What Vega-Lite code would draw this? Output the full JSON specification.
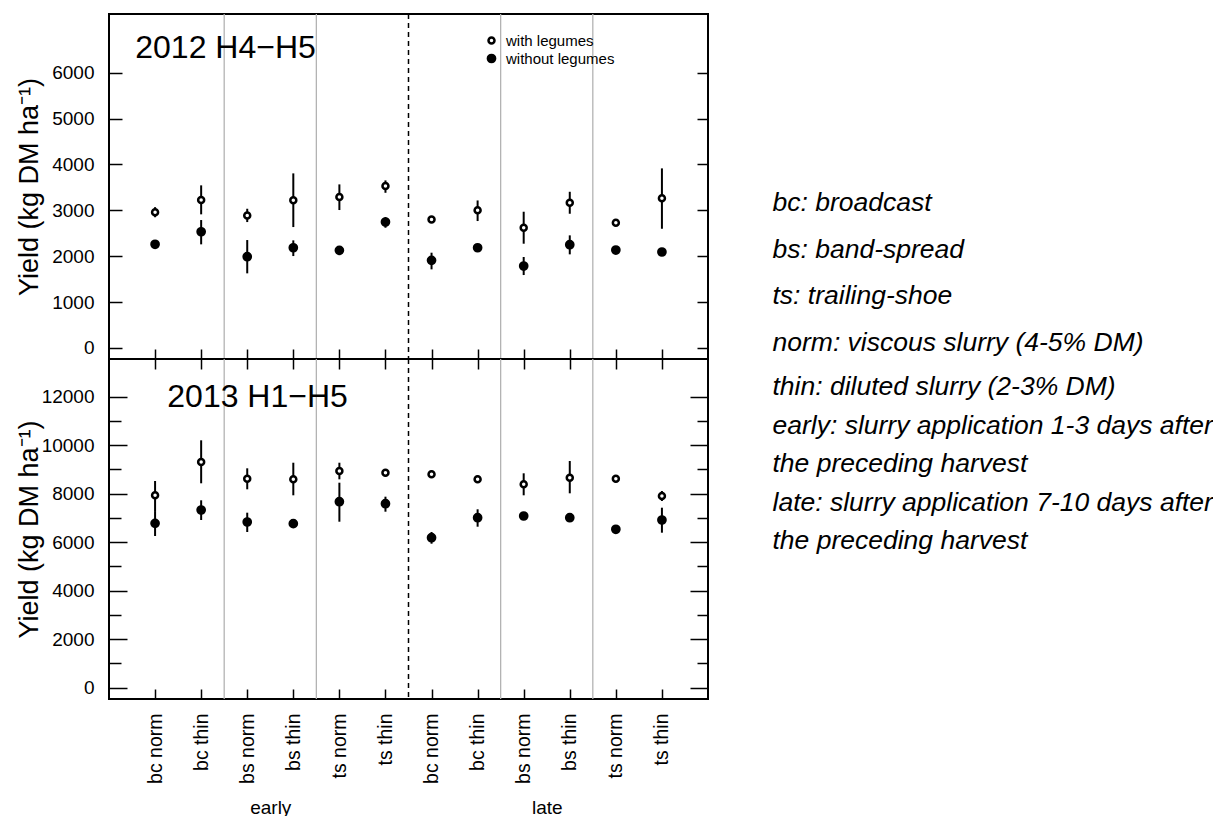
{
  "$schema": "https://vega.github.io/schema/vega-lite/v6.json",
  "background": "white",
  "padding": {"left": 14, "top": 12, "right": 0, "bottom": 0},
  "config": {
    "font": "Liberation Sans",
    "view": {"stroke": "black", "strokeWidth": 2},
    "axis": {"grid": false, "domain": false, "tickColor": "black", "tickWidth": 1.5, "labelColor": "black", "labelFont": "Liberation Sans", "labelFontSize": 19, "titleColor": "black", "titleFont": "Liberation Sans", "titleFontWeight": "normal", "labelFlush": false, "labelOverlap": false}
  },
  "datasets": {
    "yields": [
      {"year": 2012, "pos": 0, "timing": "early", "treatment": "bc norm", "legume": "with legumes", "yield": 2960, "lo": 2850, "hi": 3070},
      {"year": 2012, "pos": 0, "timing": "early", "treatment": "bc norm", "legume": "without legumes", "yield": 2260, "lo": 2190, "hi": 2330},
      {"year": 2012, "pos": 1, "timing": "early", "treatment": "bc thin", "legume": "with legumes", "yield": 3224, "lo": 2913, "hi": 3545},
      {"year": 2012, "pos": 1, "timing": "early", "treatment": "bc thin", "legume": "without legumes", "yield": 2534, "lo": 2259, "hi": 2789},
      {"year": 2012, "pos": 2, "timing": "early", "treatment": "bs norm", "legume": "with legumes", "yield": 2890, "lo": 2745, "hi": 3035},
      {"year": 2012, "pos": 2, "timing": "early", "treatment": "bs norm", "legume": "without legumes", "yield": 1990, "lo": 1627, "hi": 2353},
      {"year": 2012, "pos": 3, "timing": "early", "treatment": "bs thin", "legume": "with legumes", "yield": 3218, "lo": 2636, "hi": 3806},
      {"year": 2012, "pos": 3, "timing": "early", "treatment": "bs thin", "legume": "without legumes", "yield": 2185, "lo": 2004, "hi": 2346},
      {"year": 2012, "pos": 4, "timing": "early", "treatment": "ts norm", "legume": "with legumes", "yield": 3290, "lo": 3007, "hi": 3566},
      {"year": 2012, "pos": 4, "timing": "early", "treatment": "ts norm", "legume": "without legumes", "yield": 2128, "lo": 2060, "hi": 2190},
      {"year": 2012, "pos": 5, "timing": "early", "treatment": "ts thin", "legume": "with legumes", "yield": 3529, "lo": 3383, "hi": 3653},
      {"year": 2012, "pos": 5, "timing": "early", "treatment": "ts thin", "legume": "without legumes", "yield": 2745, "lo": 2621, "hi": 2854},
      {"year": 2012, "pos": 6, "timing": "late", "treatment": "bc norm", "legume": "with legumes", "yield": 2803, "lo": 2740, "hi": 2870},
      {"year": 2012, "pos": 6, "timing": "late", "treatment": "bc norm", "legume": "without legumes", "yield": 1910, "lo": 1714, "hi": 2077},
      {"year": 2012, "pos": 7, "timing": "late", "treatment": "bc thin", "legume": "with legumes", "yield": 3000, "lo": 2767, "hi": 3216},
      {"year": 2012, "pos": 7, "timing": "late", "treatment": "bc thin", "legume": "without legumes", "yield": 2185, "lo": 2120, "hi": 2250},
      {"year": 2012, "pos": 8, "timing": "late", "treatment": "bs norm", "legume": "with legumes", "yield": 2621, "lo": 2273, "hi": 2970},
      {"year": 2012, "pos": 8, "timing": "late", "treatment": "bs norm", "legume": "without legumes", "yield": 1786, "lo": 1590, "hi": 1983},
      {"year": 2012, "pos": 9, "timing": "late", "treatment": "bs thin", "legume": "with legumes", "yield": 3166, "lo": 2926, "hi": 3405},
      {"year": 2012, "pos": 9, "timing": "late", "treatment": "bs thin", "legume": "without legumes", "yield": 2251, "lo": 2041, "hi": 2455},
      {"year": 2012, "pos": 10, "timing": "late", "treatment": "ts norm", "legume": "with legumes", "yield": 2730, "lo": 2670, "hi": 2790},
      {"year": 2012, "pos": 10, "timing": "late", "treatment": "ts norm", "legume": "without legumes", "yield": 2135, "lo": 2060, "hi": 2200},
      {"year": 2012, "pos": 11, "timing": "late", "treatment": "ts thin", "legume": "with legumes", "yield": 3262, "lo": 2599, "hi": 3915},
      {"year": 2012, "pos": 11, "timing": "late", "treatment": "ts thin", "legume": "without legumes", "yield": 2092, "lo": 2030, "hi": 2150},
      {"year": 2013, "pos": 0, "timing": "early", "treatment": "bc norm", "legume": "with legumes", "yield": 7934, "lo": 7285, "hi": 8524},
      {"year": 2013, "pos": 0, "timing": "early", "treatment": "bc norm", "legume": "without legumes", "yield": 6779, "lo": 6255, "hi": 7285},
      {"year": 2013, "pos": 1, "timing": "early", "treatment": "bc thin", "legume": "with legumes", "yield": 9307, "lo": 8429, "hi": 10202},
      {"year": 2013, "pos": 1, "timing": "early", "treatment": "bc thin", "legume": "without legumes", "yield": 7328, "lo": 6915, "hi": 7728},
      {"year": 2013, "pos": 2, "timing": "early", "treatment": "bs norm", "legume": "with legumes", "yield": 8619, "lo": 8181, "hi": 9047},
      {"year": 2013, "pos": 2, "timing": "early", "treatment": "bs norm", "legume": "without legumes", "yield": 6833, "lo": 6421, "hi": 7217},
      {"year": 2013, "pos": 3, "timing": "early", "treatment": "bs thin", "legume": "with legumes", "yield": 8593, "lo": 7934, "hi": 9278},
      {"year": 2013, "pos": 3, "timing": "early", "treatment": "bs thin", "legume": "without legumes", "yield": 6764, "lo": 6600, "hi": 6930},
      {"year": 2013, "pos": 4, "timing": "early", "treatment": "ts norm", "legume": "with legumes", "yield": 8936, "lo": 8593, "hi": 9278},
      {"year": 2013, "pos": 4, "timing": "early", "treatment": "ts norm", "legume": "without legumes", "yield": 7670, "lo": 6845, "hi": 8454},
      {"year": 2013, "pos": 5, "timing": "early", "treatment": "ts thin", "legume": "with legumes", "yield": 8866, "lo": 8720, "hi": 9010},
      {"year": 2013, "pos": 5, "timing": "early", "treatment": "ts thin", "legume": "without legumes", "yield": 7588, "lo": 7258, "hi": 7877},
      {"year": 2013, "pos": 6, "timing": "late", "treatment": "bc norm", "legume": "with legumes", "yield": 8800, "lo": 8650, "hi": 8950},
      {"year": 2013, "pos": 6, "timing": "late", "treatment": "bc norm", "legume": "without legumes", "yield": 6186, "lo": 5938, "hi": 6421},
      {"year": 2013, "pos": 7, "timing": "late", "treatment": "bc thin", "legume": "with legumes", "yield": 8593, "lo": 8450, "hi": 8740},
      {"year": 2013, "pos": 7, "timing": "late", "treatment": "bc thin", "legume": "without legumes", "yield": 7010, "lo": 6639, "hi": 7357},
      {"year": 2013, "pos": 8, "timing": "late", "treatment": "bs norm", "legume": "with legumes", "yield": 8387, "lo": 7934, "hi": 8841},
      {"year": 2013, "pos": 8, "timing": "late", "treatment": "bs norm", "legume": "without legumes", "yield": 7080, "lo": 6930, "hi": 7230},
      {"year": 2013, "pos": 9, "timing": "late", "treatment": "bs thin", "legume": "with legumes", "yield": 8660, "lo": 8016, "hi": 9348},
      {"year": 2013, "pos": 9, "timing": "late", "treatment": "bs thin", "legume": "without legumes", "yield": 7010, "lo": 6860, "hi": 7160},
      {"year": 2013, "pos": 10, "timing": "late", "treatment": "ts norm", "legume": "with legumes", "yield": 8619, "lo": 8470, "hi": 8770},
      {"year": 2013, "pos": 10, "timing": "late", "treatment": "ts norm", "legume": "without legumes", "yield": 6532, "lo": 6380, "hi": 6680},
      {"year": 2013, "pos": 11, "timing": "late", "treatment": "ts thin", "legume": "with legumes", "yield": 7905, "lo": 7699, "hi": 8111},
      {"year": 2013, "pos": 11, "timing": "late", "treatment": "ts thin", "legume": "without legumes", "yield": 6915, "lo": 6392, "hi": 7423}
    ],
    "separators": [{"pos": 1.5}, {"pos": 3.5}, {"pos": 7.5}, {"pos": 9.5}],
    "divider": [{"pos": 5.5}],
    "panels": [{"year": 2012, "panel": "2012 H4−H5"}, {"year": 2013, "panel": "2013 H1−H5"}],
    "notesMethods": [
      {"block": "methods", "note": "bc: broadcast\nbs: band-spread\nts: trailing-shoe\nnorm: viscous slurry (4-5% DM)"}
    ],
    "notesTiming": [
      {"block": "timing", "note": "thin: diluted slurry (2-3% DM)\nearly: slurry application 1-3 days after\nthe preceding harvest\nlate: slurry application 7-10 days after\nthe preceding harvest"}
    ]
  },
  "columns": 2,
  "spacing": 0,
  "bounds": "flush",
  "align": "each",
  "resolve": {"scale": {"fill": "independent", "size": "independent", "stroke": "independent"}, "legend": {"fill": "independent", "size": "independent", "stroke": "independent"}},
  "concat": [
    {
      "width": 599,
      "height": 345,
      "resolve": {"axis": {"x": "independent", "y": "independent"}},
      "layer": [
        {
          "data": {"name": "separators"},
          "mark": {"type": "rule", "color": "#b3b3b3", "strokeWidth": 1.3},
          "encoding": {
            "x": {"field": "pos", "type": "quantitative", "scale": {"domain": [-1, 12], "nice": false, "zero": false}, "axis": null}
          }
        },
        {
          "data": {"name": "divider"},
          "mark": {"type": "rule", "color": "black", "strokeWidth": 1.5, "strokeDash": [5, 4]},
          "encoding": {"x": {"field": "pos", "type": "quantitative", "axis": null}}
        },
        {
          "data": {"name": "yields"},
          "transform": [{"filter": "datum.year === 2012"}],
          "mark": {"type": "rule", "color": "black", "strokeWidth": 2},
          "encoding": {
            "x": {"field": "pos", "type": "quantitative",
                  "axis": {"orient": "bottom", "values": [0,1,2,3,4,5,6,7,8,9,10,11], "tickSize": -10, "labels": false, "title": null}},
            "y": {"field": "lo", "type": "quantitative", "scale": {"domain": [-240, 7280], "nice": false, "zero": false},
                  "axis": {"orient": "right", "values": [0,1000,2000,3000,4000,5000,6000], "tickSize": -11, "labels": false, "title": null}},
            "y2": {"field": "hi"}
          }
        },
        {
          "data": {"name": "yields"},
          "transform": [{"filter": "datum.year === 2012"}],
          "mark": {"type": "point", "shape": "circle", "filled": true, "stroke": "black", "strokeWidth": 2.5, "opacity": 1},
          "encoding": {
            "x": {"field": "pos", "type": "quantitative", "axis": null},
            "y": {"field": "yield", "type": "quantitative", "scale": {"domain": [-240, 7280], "nice": false, "zero": false},
                  "axis": {"orient": "left", "values": [0,1000,2000,3000,4000,5000,6000], "format": "d", "tickSize": -13, "labelPadding": 28,
                           "title": "Yield (kg DM ha⁻¹)", "titleFontSize": 27, "titleX": -72, "titleY": 172.5, "titleAngle": 270, "titleAlign": "center", "titleBaseline": "alphabetic"}},
            "fill": {"field": "legume", "type": "nominal", "scale": {"domain": ["with legumes", "without legumes"], "range": ["white", "black"]},
                     "legend": {"orient": "none", "legendX": 375, "legendY": 19, "title": null, "padding": 0, "rowPadding": 0, "labelFontSize": 15, "labelOffset": 7, "labelColor": "black", "symbolStrokeColor": "black", "symbolStrokeWidth": 2.5, "symbolType": "circle"}},
            "stroke": {"field": "legume", "type": "nominal", "scale": {"domain": ["with legumes", "without legumes"], "range": ["black", "black"]},
                     "legend": {"orient": "none", "legendX": 375, "legendY": 19, "title": null, "padding": 0, "rowPadding": 0, "labelFontSize": 15, "labelOffset": 7, "labelColor": "black", "symbolStrokeColor": "black", "symbolStrokeWidth": 2.5, "symbolType": "circle"}},
            "size": {"field": "legume", "type": "nominal", "scale": {"domain": ["with legumes", "without legumes"], "range": [36, 52]},
                     "legend": {"orient": "none", "legendX": 375, "legendY": 19, "title": null, "padding": 0, "rowPadding": 0, "labelFontSize": 15, "labelOffset": 7, "labelColor": "black", "symbolStrokeColor": "black", "symbolStrokeWidth": 2.5, "symbolType": "circle"}}
          }
        },
        {
          "data": {"name": "panels"},
          "transform": [{"filter": "datum.year === 2012"}],
          "mark": {"type": "text", "align": "left", "baseline": "middle", "fontSize": 32, "font": "Liberation Sans", "color": "black"},
          "encoding": {
            "x": {"datum": -0.43, "type": "quantitative", "axis": null},
            "y": {"datum": 6548, "type": "quantitative", "axis": null},
            "text": {"field": "panel", "type": "nominal"}
          }
        }
      ]
    },
    {
      "width": 129,
      "height": 345,
      "view": {"stroke": null},
      "data": {"name": "notesMethods"},
      "mark": {"type": "text", "align": "left", "baseline": "top", "lineBreak": "\n", "lineHeight": 46.7, "fontSize": 26.5, "fontStyle": "italic", "font": "Liberation Sans", "color": "black"},
      "encoding": {
        "x": {"field": "block", "type": "nominal", "axis": null, "scale": {"type": "point", "align": 0.5}},
        "y": {"field": "block", "type": "nominal", "axis": null, "scale": {"type": "point", "align": 0.51}},
        "text": {"field": "note", "type": "nominal"}
      }
    },
    {
      "width": 599,
      "height": 340,
      "resolve": {"axis": {"x": "independent", "y": "independent"}},
      "layer": [
        {
          "data": {"name": "separators"},
          "mark": {"type": "rule", "color": "#b3b3b3", "strokeWidth": 1.3},
          "encoding": {
            "x": {"field": "pos", "type": "quantitative", "scale": {"domain": [-1, 12], "nice": false, "zero": false},
                  "axis": {"orient": "bottom", "values": [2.5, 8.5], "ticks": false, "labelPadding": 99, "labelBaseline": "top", "labelAngle": 0,
                           "labelExpr": "datum.value < 6 ? 'early' : 'late'", "title": null}}
          }
        },
        {
          "data": {"name": "divider"},
          "mark": {"type": "rule", "color": "black", "strokeWidth": 1.5, "strokeDash": [5, 4]},
          "encoding": {"x": {"field": "pos", "type": "quantitative", "axis": null}}
        },
        {
          "data": {"name": "yields"},
          "transform": [{"filter": "datum.year === 2013"}],
          "mark": {"type": "rule", "color": "black", "strokeWidth": 2},
          "encoding": {
            "x": {"field": "pos", "type": "quantitative",
                  "axis": {"orient": "top", "values": [0,1,2,3,4,5,6,7,8,9,10,11], "tickSize": -10, "labels": false, "title": null}},
            "y": {"field": "lo", "type": "quantitative", "scale": {"domain": [-466, 13555], "nice": false, "zero": false},
                  "axis": {"orient": "right", "values": [0,1000,2000,3000,4000,5000,6000,7000,8000,9000,10000,11000,12000],
                           "tickSize": {"condition": {"test": "datum.value % 2000 === 0", "value": -18}, "value": -11}, "labels": false, "title": null}},
            "y2": {"field": "hi"}
          }
        },
        {
          "data": {"name": "yields"},
          "transform": [{"filter": "datum.year === 2013"}],
          "mark": {"type": "point", "shape": "circle", "filled": true, "stroke": "black", "strokeWidth": 2.5, "opacity": 1},
          "encoding": {
            "x": {"field": "pos", "type": "quantitative",
                  "axis": {"orient": "bottom", "values": [0,1,2,3,4,5,6,7,8,9,10,11], "tickSize": -10, "labelAngle": -90, "labelPadding": 24, "labelFontSize": 19.5,
                           "labelExpr": "['bc norm','bc thin','bs norm','bs thin','ts norm','ts thin'][datum.value % 6]", "title": null}},
            "y": {"field": "yield", "type": "quantitative", "scale": {"domain": [-466, 13555], "nice": false, "zero": false},
                  "axis": {"orient": "left", "values": [0,1000,2000,3000,4000,5000,6000,7000,8000,9000,10000,11000,12000], "format": "d",
                           "labelExpr": "datum.value % 2000 === 0 ? datum.label : ''",
                           "tickSize": {"condition": {"test": "datum.value % 2000 === 0", "value": -18}, "value": -12}, "labelPadding": 33,
                           "title": "Yield (kg DM ha⁻¹)", "titleFontSize": 27, "titleX": -72, "titleY": 170, "titleAngle": 270, "titleAlign": "center", "titleBaseline": "alphabetic"}},
            "fill": {"field": "legume", "type": "nominal", "scale": {"domain": ["with legumes", "without legumes"], "range": ["white", "black"]}, "legend": null},
            "size": {"field": "legume", "type": "nominal", "scale": {"domain": ["with legumes", "without legumes"], "range": [36, 52]}, "legend": null}
          }
        },
        {
          "data": {"name": "panels"},
          "transform": [{"filter": "datum.year === 2013"}],
          "mark": {"type": "text", "align": "left", "baseline": "middle", "fontSize": 32, "font": "Liberation Sans", "color": "black"},
          "encoding": {
            "x": {"datum": 0.265, "type": "quantitative", "axis": null},
            "y": {"datum": 11976, "type": "quantitative", "axis": null},
            "text": {"field": "panel", "type": "nominal"}
          }
        }
      ]
    },
    {
      "width": 129,
      "height": 340,
      "view": {"stroke": null},
      "data": {"name": "notesTiming"},
      "mark": {"type": "text", "align": "left", "baseline": "top", "lineBreak": "\n", "lineHeight": 38.5, "fontSize": 26.5, "fontStyle": "italic", "font": "Liberation Sans", "color": "black"},
      "encoding": {
        "x": {"field": "block", "type": "nominal", "axis": null, "scale": {"type": "point", "align": 0.5}},
        "y": {"field": "block", "type": "nominal", "axis": null, "scale": {"type": "point", "align": 0.0447}},
        "text": {"field": "note", "type": "nominal"}
      }
    }
  ]
}
